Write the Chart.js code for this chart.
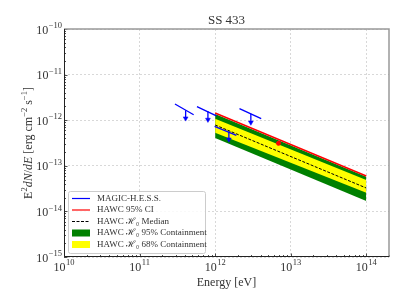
<!DOCTYPE html>
<html>
<head>
<meta charset="utf-8">
<script src="https://cdn.jsdelivr.net/npm/chart.js@4.4.1/dist/chart.umd.min.js"></script>
<style>
  html, body { margin: 0; padding: 0; background: #fff; }
  #wrap { width: 407px; height: 305px; }
</style>
</head>
<body>
<div id="wrap"><canvas id="sedChart" width="407" height="305"></canvas></div>
<script>
// HAWC band, read at both ends (energy in eV, E^2 dN/dE in erg cm^-2 s^-1)
const bandEnergy = [1e12, 1e14];
const ciUpper = [1.44e-12, 5.97e-14];
const medianFlux = [7.85e-13, 3.26e-14];
const c95Upper = [1.37e-12, 5.76e-14];
const c95Lower = [4.07e-13, 1.69e-14];
const c68Upper = [1.08e-12, 4.89e-14];
const c68Lower = [5.3e-13, 2.57e-14];

// small red point inside the band
const redPointEnergy = [6.9e12];
const redPointFlux = [3.11e-13];

// MAGIC-H.E.S.S. upper limits
const ulEnergy = [4.07e11, 8.03e11, 2.97e12, 1.52e12];
const ulFlux = [1.65e-12, 1.57e-12, 1.39e-12, 5.65e-13];
const ulArrowTip = [1.1e-12, 1.03e-12, 8.9e-13, 3.8e-13];
const ulSegEnergyLo = [2.94e11, 5.75e11, 2.10e12, 9.84e11];
const ulSegEnergyHi = [5.2e11, 1.04e12, 4.07e12, 1.91e12];
const ulSegFluxLo = [2.26e-12, 1.98e-12, 1.79e-12, 7.35e-13];
const ulSegFluxHi = [1.32e-12, 1.24e-12, 1.08e-12, 4.67e-13];

const xRange = [1e10, 2e14];
const yRange = [1e-15, 1e-10];

const BLUE = "#0000ff", RED = "#ff0000", GREEN = "#008000", YELLOW = "#ffff00";
const SERIF = "'Liberation Serif', 'DejaVu Serif', serif";
const TXT = "#333";

const pts = (xs, ys) => xs.map((x, i) => ({ x, y: ys[i] }));

// broken polylines: one piece per upper limit
const ulSegments = [];
const ulStems = [];
ulEnergy.forEach((e, i) => {
  ulSegments.push({ x: ulSegEnergyLo[i], y: ulSegFluxLo[i] }, { x: ulSegEnergyHi[i], y: ulSegFluxHi[i] }, { x: ulSegEnergyHi[i], y: null });
  ulStems.push({ x: e, y: ulFlux[i] }, { x: e, y: ulArrowTip[i] }, { x: e, y: null });
});

const legendEntries = [
  { label: "MAGIC-H.E.S.S.", kind: "line", color: BLUE },
  { label: "HAWC 95% CI", kind: "line", color: RED },
  { label: "HAWC \u210B\u2080 Median", kind: "dash", color: "#000" },
  { label: "HAWC \u210B\u2080 95% Containment", kind: "box", color: GREEN },
  { label: "HAWC \u210B\u2080 68% Containment", kind: "box", color: YELLOW }
];

const isDecade = v => Math.abs(Math.log10(v) - Math.round(Math.log10(v))) < 1e-6;

function logTicks(min, max) {
  const out = [];
  for (let e = Math.floor(Math.log10(min)); e <= Math.ceil(Math.log10(max)); e++) {
    for (let k = 1; k < 10; k++) {
      const v = k * Math.pow(10, e);
      if (v >= min * 0.9999 && v <= max * 1.0001) out.push({ v, major: k === 1 });
    }
  }
  return out;
}

// "10" with a raised exponent
function drawPow(ctx, exp, x, y, align) {
  const base = "10", sup = (exp < 0 ? "\u2212" : "") + Math.abs(exp);
  ctx.font = "12px " + SERIF;
  const wb = ctx.measureText(base).width;
  ctx.font = "8.5px " + SERIF;
  const ws = ctx.measureText(sup).width;
  const total = wb + ws + 0.5;
  let x0 = align === "center" ? x - total / 2 : x - total;
  ctx.fillStyle = TXT;
  ctx.textAlign = "left";
  ctx.textBaseline = "middle";
  ctx.font = "12px " + SERIF;
  ctx.fillText(base, x0, y + 1.5);
  ctx.font = "8.5px " + SERIF;
  ctx.fillText(sup, x0 + wb + 0.5, y - 3);
}

// mixed roman / italic / superscript text, rotated for the y title
function drawRich(ctx, parts, cx, cy, rot) {
  const fontOf = p => (p.it ? "italic " : "") + (p.sup ? "8.5px " : "12px ") + SERIF;
  let w = 0;
  parts.forEach(p => { ctx.font = fontOf(p); p.w = ctx.measureText(p.t).width; w += p.w; });
  ctx.save();
  ctx.translate(cx, cy);
  ctx.rotate(rot);
  ctx.fillStyle = TXT;
  ctx.textAlign = "left";
  ctx.textBaseline = "alphabetic";
  let x = -w / 2;
  parts.forEach(p => {
    ctx.font = fontOf(p);
    ctx.fillText(p.t, x, p.sup ? 0 : 4.5);
    x += p.w;
  });
  ctx.restore();
}

const decorations = {
  id: "decorations",
  afterDraw(chart) {
    const { ctx, chartArea: a, scales: { x, y } } = chart;
    ctx.save();

    // inward ticks
    ctx.strokeStyle = "#222";
    ctx.lineWidth = 0.8;
    logTicks(xRange[0], xRange[1]).forEach(t => {
      const px = Math.round(x.getPixelForValue(t.v)) + 0.5;
      const len = t.major ? 3.5 : 2;
      ctx.beginPath(); ctx.moveTo(px, a.bottom); ctx.lineTo(px, a.bottom - len); ctx.stroke();
    });
    logTicks(yRange[0], yRange[1]).forEach(t => {
      const py = Math.round(y.getPixelForValue(t.v)) + 0.5;
      const len = t.major ? 3.5 : 2;
      ctx.beginPath(); ctx.moveTo(a.left, py); ctx.lineTo(a.left + len, py); ctx.stroke();
    });

    // frame
    ctx.lineWidth = 1.5;
    ctx.strokeStyle = "#999";
    ctx.beginPath();
    ctx.moveTo(a.left, a.top); ctx.lineTo(a.right, a.top); ctx.lineTo(a.right, a.bottom);
    ctx.stroke();
    ctx.lineWidth = 1;
    ctx.strokeStyle = "#222";
    ctx.beginPath();
    ctx.moveTo(a.left + 0.5, a.top); ctx.lineTo(a.left + 0.5, a.bottom - 0.5); ctx.lineTo(a.right, a.bottom - 0.5);
    ctx.stroke();

    // tick labels
    logTicks(xRange[0], xRange[1]).filter(t => t.major).forEach(t => {
      drawPow(ctx, Math.round(Math.log10(t.v)), x.getPixelForValue(t.v), a.bottom + 9, "center");
    });
    logTicks(yRange[0], yRange[1]).filter(t => t.major).forEach(t => {
      drawPow(ctx, Math.round(Math.log10(t.v)), a.left - 2, y.getPixelForValue(t.v), "right");
    });

    // titles
    ctx.fillStyle = TXT;
    ctx.textAlign = "center";
    ctx.textBaseline = "middle";
    ctx.font = "13px " + SERIF;
    ctx.fillText("SS 433", (a.left + a.right) / 2, 21);
    ctx.font = "12px " + SERIF;
    ctx.fillText("Energy [eV]", (a.left + a.right) / 2, 283);
    drawRich(ctx, [
      { t: "E" }, { t: "2", sup: true }, { t: "dN", it: true }, { t: "/" }, { t: "dE", it: true },
      { t: " [erg cm" }, { t: "\u22122", sup: true }, { t: " s" }, { t: "\u22121", sup: true }, { t: "]" }
    ], 27, (a.top + a.bottom) / 2, -Math.PI / 2);

    // legend
    const lx = a.left + 4, ly = a.bottom - 66, lw = 137, lh = 62;
    ctx.fillStyle = "rgba(255,255,255,0.85)";
    ctx.strokeStyle = "#ccc";
    ctx.lineWidth = 1;
    ctx.beginPath();
    ctx.roundRect(lx + 0.5, ly + 0.5, lw, lh, 2);
    ctx.fill(); ctx.stroke();
    ctx.font = "9px " + SERIF;
    ctx.textAlign = "left";
    ctx.textBaseline = "middle";
    legendEntries.forEach((e, i) => {
      const cy = ly + 7.5 + i * 11.5;
      if (e.kind === "box") {
        ctx.fillStyle = e.color;
        ctx.fillRect(lx + 4, cy - 3.5, 18, 7);
      } else {
        ctx.strokeStyle = e.color;
        ctx.lineWidth = e.kind === "dash" ? 1 : 1.2;
        ctx.setLineDash(e.kind === "dash" ? [3, 1.5] : []);
        ctx.beginPath(); ctx.moveTo(lx + 4, cy); ctx.lineTo(lx + 22, cy); ctx.stroke();
        ctx.setLineDash([]);
      }
      ctx.fillStyle = TXT;
      ctx.fillText(e.label, lx + 29, cy);
    });
    ctx.restore();
  }
};

const lineDs = (data, extra) => Object.assign({
  data, showLine: true, pointRadius: 0, borderWidth: 1.3, fill: false, spanGaps: false
}, extra);

new Chart(document.getElementById("sedChart"), {
  type: "scatter",
  data: {
    datasets: [
      lineDs(pts(bandEnergy, c95Upper), { borderWidth: 0, borderColor: GREEN, backgroundColor: GREEN, fill: 1, order: 6 }),
      lineDs(pts(bandEnergy, c95Lower), { borderWidth: 0, borderColor: GREEN, order: 6 }),
      lineDs(pts(bandEnergy, c68Upper), { borderWidth: 0, borderColor: YELLOW, backgroundColor: YELLOW, fill: 3, order: 5 }),
      lineDs(pts(bandEnergy, c68Lower), { borderWidth: 0, borderColor: YELLOW, order: 5 }),
      lineDs(pts(bandEnergy, medianFlux), { borderColor: "#000", borderWidth: 1, borderDash: [3, 1.5], order: 2 }),
      lineDs(pts(bandEnergy, ciUpper), { borderColor: RED, borderWidth: 1.5, order: 2 }),
      { data: pts(redPointEnergy, redPointFlux), pointRadius: 2, pointBackgroundColor: RED, pointBorderColor: RED, order: 1 },
      lineDs(ulSegments, { borderColor: BLUE, borderWidth: 1.3, order: 1 }),
      lineDs(ulStems, { borderColor: BLUE, borderWidth: 1.3, order: 1 }),
      { data: pts(ulEnergy, ulArrowTip), pointStyle: "triangle", rotation: 180, pointRadius: 2.8,
        pointBackgroundColor: BLUE, pointBorderColor: BLUE, pointBorderWidth: 0.5, order: 0 }
    ]
  },
  options: {
    responsive: false,
    animation: false,
    devicePixelRatio: 1,
    layout: { padding: { top: 29, right: 18, left: 0, bottom: 0 } },
    plugins: { legend: { display: false }, tooltip: { enabled: false }, title: { display: false } },
    scales: {
      x: {
        type: "logarithmic", min: xRange[0], max: xRange[1],
        ticks: { display: false },
        grid: { drawTicks: false, lineWidth: 0.8, color: c => isDecade(c.tick.value) ? "#cfcfcf" : "transparent" },
        border: { display: false, dash: [2, 2] },
        afterFit: s => { s.height = 48; }
      },
      y: {
        type: "logarithmic", min: yRange[0], max: yRange[1],
        ticks: { display: false },
        grid: { drawTicks: false, lineWidth: 0.8, color: c => isDecade(c.tick.value) ? "#cfcfcf" : "transparent" },
        border: { display: false, dash: [2, 2] },
        afterFit: s => { s.width = 64; }
      }
    }
  },
  plugins: [decorations]
});
</script>
</body>
</html>
